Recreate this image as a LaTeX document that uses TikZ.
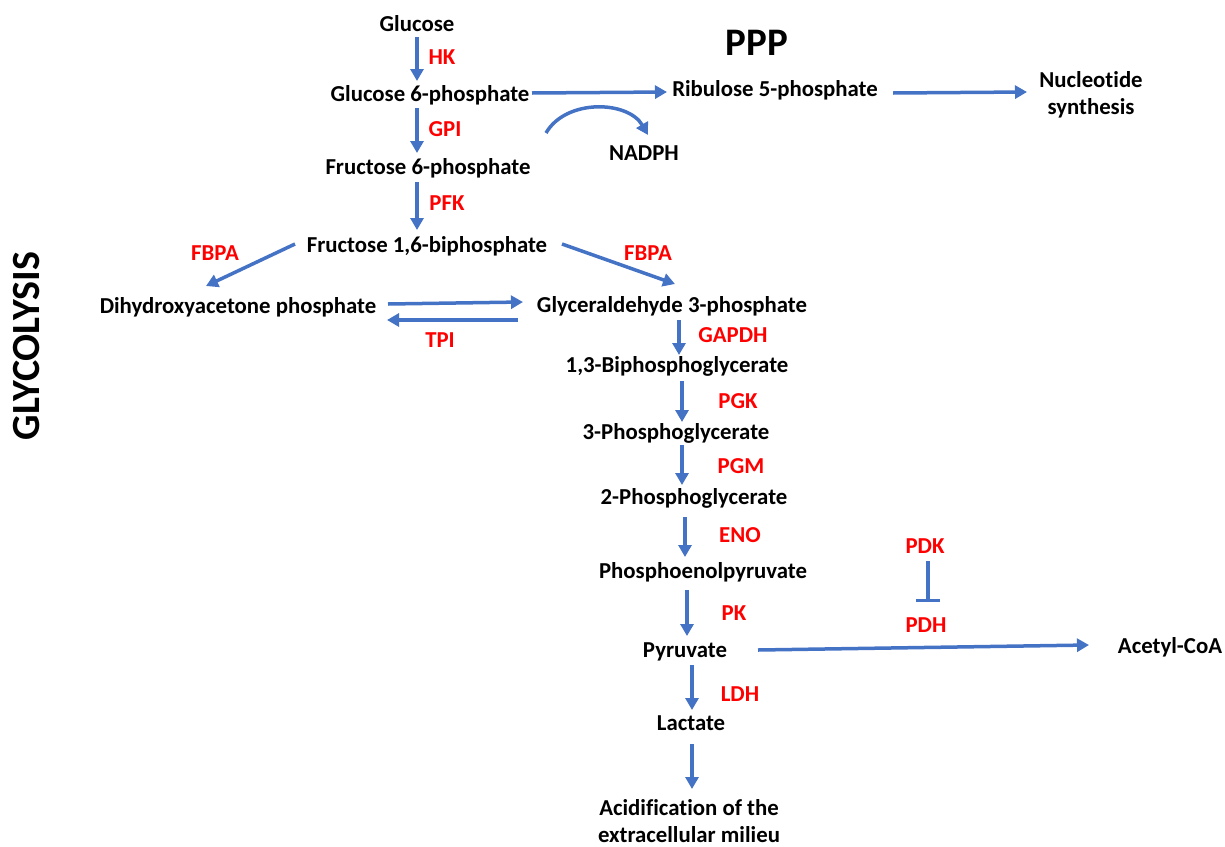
\documentclass[tikz,border=0pt]{standalone}
\usepackage{fontspec}
\setmainfont{Carlito}[Ligatures=NoCommon]
\usetikzlibrary{arrows.meta}
\definecolor{arrblue}{HTML}{4472C4}
\definecolor{enzred}{HTML}{FF0000}
\tikzset{
  met/.style={font=\bfseries\fontsize{22.8}{27}\selectfont, text height=14.5pt, text depth=0pt, inner sep=0pt, align=center},
  enz/.style={met, text=enzred},
  arr/.style={draw=arrblue, line width=3.5pt, -{Triangle[length=12pt,width=13pt]}},
  inh/.style={draw=arrblue, line width=3.5pt, -{Bar[width=24pt]}}
}
\begin{document}
\begin{tikzpicture}[x=1pt,y=-1pt]
\useasboundingbox (0,0) rectangle (1225,846);
% titles
\node[font=\bfseries\fontsize{40}{44}\selectfont, rotate=90, inner sep=0pt] (glyc) at (27,346) {GLYCOLYSIS};
\node[font=\bfseries\fontsize{39}{42}\selectfont, text height=25pt, text depth=0pt, inner sep=0pt] (ppp) at (757,43) {PPP};
% metabolites
\node[met] (glc) at (417,24) {Glucose};
\node[met] (g6p) at (430,94) {Glucose 6-phosphate};
\node[met] (f6p) at (428,167) {Fructose 6-phosphate};
\node[met] (f16) at (427,245) {Fructose 1,6-biphosphate};
\node[met] (dhap) at (238,306) {Dihydroxyacetone phosphate};
\node[met] (g3p) at (672,305) {Glyceraldehyde 3-phosphate};
\node[met] (bpg) at (677,365) {1,3-Biphosphoglycerate};
\node[met] (pg3) at (676,432) {3-Phosphoglycerate};
\node[met] (pg2) at (694,497) {2-Phosphoglycerate};
\node[met] (pep) at (703,571) {Phosphoenolpyruvate};
\node[met] (pyr) at (685,650) {Pyruvate};
\node[met] (lac) at (691,723) {Lactate};
\node[met] (acid) at (689,835) {Acidification of the\\extracellular milieu};
\node[met] (acoa) at (1170,646) {Acetyl-CoA};
\node[met] (rib) at (775,89) {Ribulose 5-phosphate};
\node[met] (nuc) at (1091,107) {Nucleotide\\synthesis};
\node[met] (nadph) at (644,153) {NADPH};
% enzymes
\node[enz] (hk) at (442,57) {HK};
\node[enz] (gpi) at (445,129) {GPI};
\node[enz] (pfk) at (447,203) {PFK};
\node[enz] (fbpa1) at (215,253) {FBPA};
\node[enz] (fbpa2) at (648,253) {FBPA};
\node[enz] (tpi) at (440,340) {TPI};
\node[enz] (gapdh) at (733,335) {GAPDH};
\node[enz] (pgk) at (738,401) {PGK};
\node[enz] (pgm) at (741,466) {PGM};
\node[enz] (eno) at (740,535) {ENO};
\node[enz] (pk) at (734,613) {PK};
\node[enz] (ldh) at (740,694) {LDH};
\node[enz] (pdk) at (925,546) {PDK};
\node[enz] (pdh) at (926,625) {PDH};
% connectors
\draw[arr] ([shift={(0,13)}]glc.center) -- ([shift={(-13,-13)}]g6p.center);
\draw[arr] ([shift={(-13,14)}]g6p.center) -- ([shift={(-11,-14)}]f6p.center);
\draw[arr] ([shift={(-11,15)}]f6p.center) -- ([shift={(-10,-15)}]f16.center);
\draw[arr] ([shift={(102,-1)}]g6p.center) -- ([shift={(-108,3)}]rib.center);
\draw[arr] ([shift={(118,4)}]rib.center) -- ([shift={(-64,-15)}]nuc.center);
\draw[arr] ([shift={(116,39)}]g6p.center) to[out=60,in=120] ([shift={(4,-18)}]nadph.center);
\draw[arr] ([shift={(-132,-1)}]f16.center) -- ([shift={(-32,-20)}]dhap.center);
\draw[arr] ([shift={(135,-1)}]f16.center) -- ([shift={(3,-21)}]g3p.center);
\draw[arr] ([shift={(150,-2)}]dhap.center) -- ([shift={(-149,-3)}]g3p.center);
\draw[arr] ([shift={(-154,15)}]g3p.center) -- ([shift={(149,14)}]dhap.center);
\draw[arr] ([shift={(7,15)}]g3p.center) -- ([shift={(2,-10)}]bpg.center);
\draw[arr] ([shift={(5,16)}]bpg.center) -- ([shift={(6,-10)}]pg3.center);
\draw[arr] ([shift={(6,13)}]pg3.center) -- ([shift={(-12,-12)}]pg2.center);
\draw[arr] ([shift={(-9,20)}]pg2.center) -- ([shift={(-18,-14)}]pep.center);
\draw[arr] ([shift={(-16,19)}]pep.center) -- ([shift={(2,-14)}]pyr.center);
\draw[arr] ([shift={(7,15)}]pyr.center) -- ([shift={(1,-13)}]lac.center);
\draw[arr] ([shift={(1,21)}]lac.center) -- ([shift={(3,-46)}]acid.center);
\draw[arr] ([shift={(73,0)}]pyr.center) -- ([shift={(-81,-1)}]acoa.center);
\draw[inh] ([shift={(3,15)}]pdk.center) -- ([shift={(2,-23)}]pdh.center);
\end{tikzpicture}
\end{document}
